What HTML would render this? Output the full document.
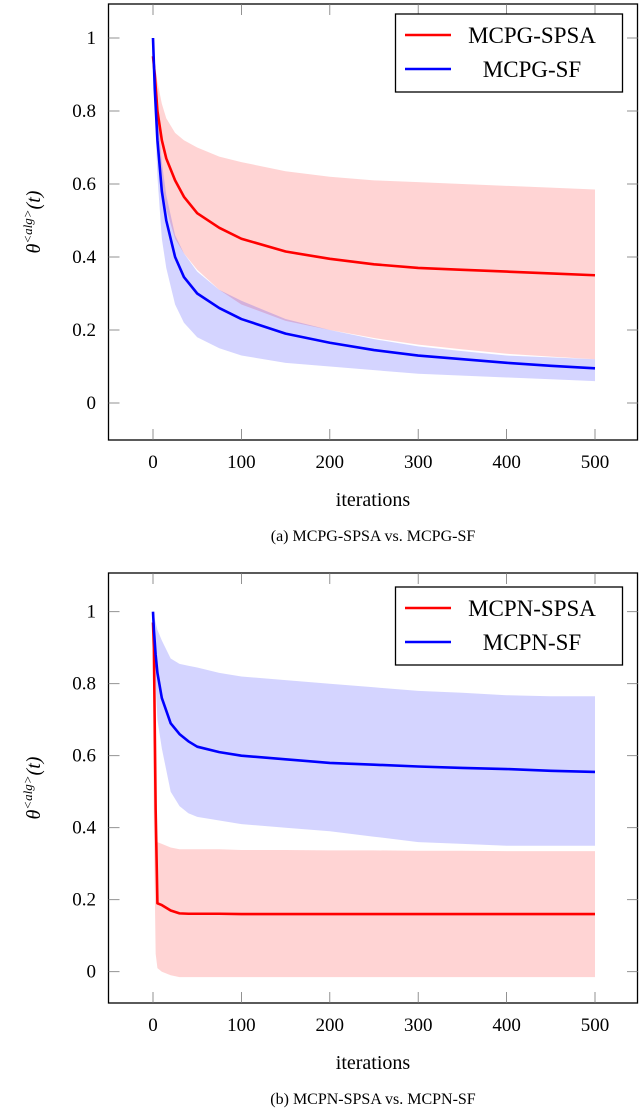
<!DOCTYPE html>
<html><head><meta charset="utf-8"><style>
html,body{margin:0;padding:0;background:#fff;width:640px;height:1120px;overflow:hidden}
svg{display:block;font-family:"Liberation Serif",serif}
</style></head><body>
<svg id="s" width="640" height="1120"></svg>
<script>
const xTicks=[0,100,200,300,400,500];
const yTicks=[0,0.2,0.4,0.6,0.8,1];
const yTickLabels=["0","0.2","0.4","0.6","0.8","1"];
// Chart A
const aX=[0,2,5,10,15,25,35,50,75,100,150,200,250,300,350,400,450,500];
const aSpsaMean=[0.95,0.9,0.8,0.72,0.67,0.61,0.565,0.52,0.48,0.45,0.415,0.395,0.38,0.37,0.365,0.36,0.355,0.35];
const aSpsaHi=[0.95,0.93,0.88,0.82,0.78,0.74,0.72,0.70,0.675,0.66,0.635,0.62,0.61,0.605,0.6,0.595,0.59,0.585];
const aSpsaLo=[0.95,0.84,0.7,0.6,0.53,0.45,0.41,0.365,0.31,0.27,0.225,0.2,0.178,0.16,0.147,0.135,0.127,0.12];
const aSfMean=[1.0,0.86,0.72,0.58,0.5,0.4,0.345,0.3,0.26,0.23,0.19,0.165,0.145,0.13,0.12,0.11,0.102,0.095];
const aSfHi=[1.0,0.9,0.8,0.66,0.57,0.46,0.41,0.36,0.31,0.28,0.23,0.2,0.175,0.155,0.142,0.13,0.125,0.12];
const aSfLo=[1.0,0.8,0.62,0.45,0.37,0.27,0.22,0.18,0.15,0.13,0.11,0.1,0.09,0.08,0.075,0.07,0.065,0.06];
// Chart B
const bX=[0,1,3,5,10,20,30,40,50,75,100,150,200,250,300,350,400,450,500];
const bSpsaMean=[0.97,0.9,0.45,0.19,0.185,0.17,0.162,0.161,0.161,0.161,0.16,0.16,0.16,0.16,0.16,0.16,0.16,0.16,0.16];
const bSpsaHi=[0.7,0.6,0.37,0.36,0.355,0.345,0.34,0.34,0.34,0.34,0.338,0.338,0.337,0.337,0.336,0.336,0.335,0.335,0.335];
const bSpsaLo=[0.7,0.4,0.05,0.01,0.0,-0.01,-0.015,-0.015,-0.015,-0.015,-0.015,-0.015,-0.015,-0.015,-0.015,-0.015,-0.015,-0.015,-0.015];
const bSfMean=[1.0,0.95,0.88,0.83,0.76,0.69,0.66,0.64,0.625,0.61,0.6,0.59,0.58,0.575,0.57,0.566,0.563,0.558,0.555];
const bSfHi=[1.0,0.99,0.97,0.95,0.92,0.87,0.855,0.85,0.845,0.83,0.82,0.81,0.8,0.79,0.78,0.775,0.768,0.765,0.765];
const bSfLo=[1.0,0.95,0.8,0.7,0.62,0.5,0.46,0.44,0.43,0.42,0.41,0.4,0.39,0.375,0.36,0.355,0.35,0.35,0.35];

const NS="http://www.w3.org/2000/svg";
const svg=document.getElementById('s');
function el(t,a,p){const e=document.createElementNS(NS,t);for(const k in a)e.setAttribute(k,a[k]);(p||svg).appendChild(e);return e;}

function chart(cfg){
  const g=el('g',{});
  
  
  const X=v=>153+(v/500)*(595-153);
  const Y=v=>cfg.y0+(cfg.y1-cfg.y0)*v;
  const band=(xs,hi,lo,col,nm)=>{
    let d='M'+xs.map((x,i)=>X(x)+','+Y(hi[i])).join('L');
    for(let i=xs.length-1;i>=0;i--)d+='L'+X(xs[i])+','+Y(lo[i]);
    const p=el('path',{d:d+'Z',fill:col,'fill-opacity':0.17,stroke:'none'},g);
    
    
  };
  const line=(xs,ys,col,nm)=>{
    const p=el('path',{d:'M'+xs.map((x,i)=>X(x)+','+Y(ys[i])).join('L'),fill:'none',stroke:col,'stroke-width':2.6,'stroke-linejoin':'round'},g);
    
    
  };
  cfg.bands.forEach(b=>band(cfg.xs,b[0],b[1],b[2],b[3]));
  cfg.lines.forEach(l=>line(cfg.xs,l[0],l[1],l[2]));
  const f=el('rect',{x:108.5,y:cfg.top,width:529,height:cfg.bot-cfg.top,fill:'none',stroke:'#000','stroke-width':1.3},g);
  
  
  xTicks.forEach(t=>{
    el('line',{x1:X(t),x2:X(t),y1:cfg.bot,y2:cfg.bot-11,stroke:'#777','stroke-width':0.8},g);
    el('line',{x1:X(t),x2:X(t),y1:cfg.top,y2:cfg.top+11,stroke:'#777','stroke-width':0.8},g);
    const tx=el('text',{x:X(t),y:cfg.bot+28,'font-size':19,'text-anchor':'middle'},g);
    tx.textContent=t;
    
    
  });
  yTicks.forEach((t,i)=>{
    el('line',{x1:108.5,x2:119.5,y1:Y(t),y2:Y(t),stroke:'#777','stroke-width':0.8},g);
    el('line',{x1:627,x2:638,y1:Y(t),y2:Y(t),stroke:'#777','stroke-width':0.8},g);
    const tx=el('text',{x:96,y:Y(t)+6,'font-size':19,'text-anchor':'end'},g);
    tx.textContent=yTickLabels[i];
    
    
  });
  const yl=el('text',{transform:`translate(40,${(cfg.top+cfg.bot)/2}) rotate(-90)`,'font-size':20,'text-anchor':'middle','font-style':'italic'},g);
  yl.innerHTML='θ<tspan font-size="13" dy="-8">&lt;alg&gt;</tspan><tspan dy="8">(t)</tspan>';
  
  
  const xl=el('text',{x:373,y:cfg.bot+66,'font-size':20,'text-anchor':'middle'},g);
  xl.textContent='iterations';
  
  
  const cap=el('text',{x:373,y:cfg.bot+101,'font-size':16,'text-anchor':'middle'},g);
  cap.textContent=cfg.caption;
  
  
  const lg=el('g',{},g);
  
  
  el('rect',{x:395.5,y:cfg.lt,width:227,height:78,fill:'#fff',stroke:'#000','stroke-width':1.3},lg);
  cfg.leg.forEach((l,i)=>{
    const yy=cfg.lt+21+i*34;
    el('line',{x1:405,x2:451,y1:yy,y2:yy,stroke:l[1],'stroke-width':2.6},lg);
    const t=el('text',{x:532,y:yy+8,'font-size':23,'text-anchor':'middle'},lg);
    t.textContent=l[0];
    
    
  });
}
chart({name:'chart-a',top:4,bot:440,y0:403,y1:38,lt:14,xs:aX,
  bands:[[aSpsaHi,aSpsaLo,'#ff0000','band-mcpg-spsa'],[aSfHi,aSfLo,'#0000ff','band-mcpg-sf']],
  lines:[[aSpsaMean,'#ff0000','line-mcpg-spsa'],[aSfMean,'#0000ff','line-mcpg-sf']],
  leg:[['MCPG-SPSA','#ff0000'],['MCPG-SF','#0000ff']],caption:'(a)  MCPG-SPSA vs. MCPG-SF'});
chart({name:'chart-b',top:573,bot:1003,y0:971.7,y1:611.7,lt:587,xs:bX,
  bands:[[bSpsaHi,bSpsaLo,'#ff0000','band-mcpn-spsa'],[bSfHi,bSfLo,'#0000ff','band-mcpn-sf']],
  lines:[[bSpsaMean,'#ff0000','line-mcpn-spsa'],[bSfMean,'#0000ff','line-mcpn-sf']],
  leg:[['MCPN-SPSA','#ff0000'],['MCPN-SF','#0000ff']],caption:'(b) MCPN-SPSA vs. MCPN-SF'});
</script>
</body></html>
